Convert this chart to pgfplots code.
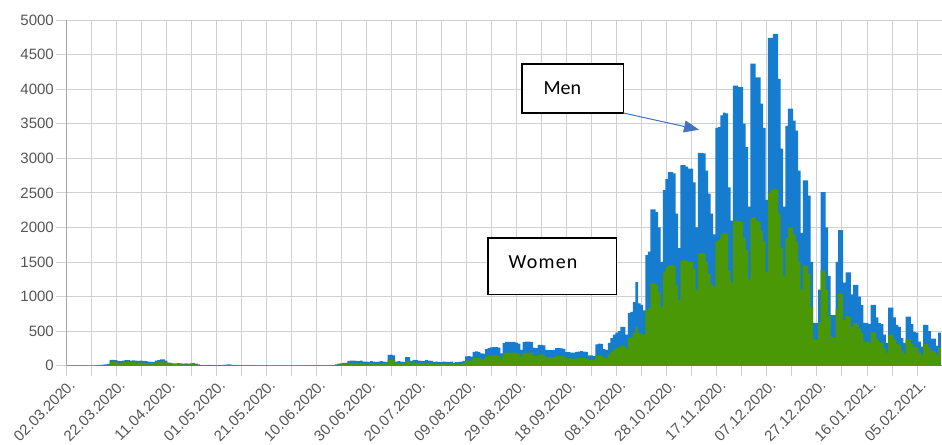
\documentclass[border=0pt]{standalone}
\usepackage{pgfplots}
\pgfplotsset{compat=1.18}
\usepackage{pgfplotstable}
\usepackage{fontspec}
\setmainfont{Liberation Sans}
\newfontfamily\annfont{Carlito}
\newfontfamily\annfontW[LetterSpace=6]{Carlito}
\usetikzlibrary{arrows.meta}
\definecolor{menblue}{RGB}{22,124,208}
\definecolor{womengreen}{RGB}{74,152,6}
\definecolor{gridgray}{RGB}{208,208,208}
\definecolor{axisgray}{RGB}{140,140,140}
\definecolor{arrowblue}{RGB}{68,114,196}
\definecolor{labelgray}{RGB}{85,85,85}
\pgfplotstableread{
d m w
12 2 1
13 5 3
14 10 6
15 15 10
16 20 13
17 25 16
18 85 55
19 85 55
20 80 52
21 70 45
22 65 42
23 75 48
24 80 52
25 80 52
26 75 48
27 78 50
28 72 46
29 70 45
30 74 48
31 70 45
32 65 42
33 60 39
34 55 36
35 55 36
36 75 48
37 80 52
38 90 58
39 90 58
40 75 48
41 45 29
42 40 26
43 35 23
44 35 23
45 38 25
46 35 23
47 30 20
48 32 21
49 30 20
50 35 23
51 38 25
52 30 20
53 20 13
54 10 7
55 8 5
56 10 7
57 12 8
58 10 7
59 8 5
60 6 4
61 8 5
62 10 7
63 12 8
64 15 10
65 18 12
66 15 10
67 10 7
68 8 5
69 6 4
70 5 3
71 4 2
72 3 2
73 3 2
74 4 2
75 3 2
76 2 1
77 3 2
78 2 1
79 2 1
80 3 2
81 2 1
82 2 1
83 3 2
84 2 1
85 2 1
86 2 1
87 3 2
88 2 1
89 2 1
90 3 2
91 2 1
92 2 1
93 2 1
94 3 2
95 2 1
96 2 1
97 3 2
98 2 1
99 3 2
100 4 2
101 3 2
102 4 2
103 5 3
104 4 2
105 6 4
106 8 5
107 10 5
108 20 10
109 30 15
110 35 20
111 40 22
112 40 22
113 70 40
114 75 42
115 75 42
116 70 40
117 65 36
118 75 42
119 60 34
120 60 34
121 55 30
122 65 36
123 60 34
124 55 30
125 60 34
126 65 36
127 60 34
128 55 30
129 155 85
130 160 88
131 150 82
132 60 34
133 65 36
134 60 34
135 55 30
136 125 70
137 125 70
138 70 40
139 85 48
140 80 45
141 75 42
142 70 40
143 65 36
144 80 45
145 75 42
146 70 40
147 55 30
148 60 34
149 55 30
150 50 28
151 60 34
152 55 30
153 50 28
154 60 34
155 45 25
156 50 28
157 55 30
158 60 34
159 70 40
160 135 75
161 140 78
162 130 72
163 200 110
164 206 115
165 200 110
166 180 100
167 175 98
168 240 135
169 255 140
170 265 150
171 270 150
172 270 150
173 260 145
174 180 100
175 330 180
176 345 190
177 345 190
178 340 185
179 345 190
180 335 185
181 320 175
182 230 130
183 340 185
184 350 190
185 350 190
186 345 190
187 260 145
188 255 140
189 300 165
190 300 165
191 295 160
192 230 125
193 230 125
194 225 125
195 230 125
196 255 140
197 255 140
198 250 135
199 245 135
200 195 105
201 195 105
202 190 105
203 190 100
204 200 105
205 205 110
206 210 110
207 205 110
208 200 105
209 150 85
210 150 85
211 140 80
212 310 140
213 320 145
214 315 140
215 240 120
216 230 115
217 330 160
218 400 200
219 450 230
220 480 250
221 500 260
222 560 290
223 560 290
224 450 250
225 760 400
226 780 410
227 920 480
228 1210 560
229 900 470
230 880 460
231 800 450
232 1600 800
233 1650 830
234 2260 1190
235 2260 1190
236 2220 1170
237 2000 1060
238 1500 850
239 2540 1350
240 2700 1430
241 2800 1450
242 2800 1460
243 2780 1440
244 2200 1170
245 1700 950
246 2900 1520
247 2900 1530
248 2880 1520
249 2850 1500
250 2850 1500
251 2650 1400
252 2000 1100
253 3080 1620
254 3080 1630
255 3070 1620
256 2820 1500
257 2490 1330
258 2200 1180
259 1900 1140
260 3440 1800
261 3450 1820
262 3620 1900
263 3660 1920
264 3650 1910
265 2580 1380
266 2100 1200
267 4050 2100
268 4050 2100
269 4030 2090
270 4030 2080
271 3500 1850
272 3160 1680
273 2300 1250
274 4370 2150
275 4370 2150
276 4170 2100
277 4170 2080
278 3790 1950
279 3440 1800
280 2400 1350
281 4740 2500
282 4740 2540
283 4800 2560
284 4800 2550
285 4150 2200
286 3140 1700
287 2300 1300
288 3470 1850
289 3720 2000
290 3720 2000
291 3545 1900
292 3400 1800
293 2820 1500
294 1920 1100
295 2680 1450
296 2680 1440
297 2460 1330
298 1500 850
299 620 380
300 620 370
301 1100 620
302 2510 1380
303 2510 1370
304 2000 1100
305 1300 720
306 730 420
307 730 410
308 1500 820
309 1960 1050
310 1960 1040
311 1200 660
312 1350 720
313 1350 710
314 1030 560
315 1170 620
316 1170 620
317 1000 540
318 880 470
319 620 340
320 620 340
321 600 330
322 880 490
323 880 480
324 700 380
325 620 340
326 600 330
327 450 250
328 330 190
329 840 450
330 840 450
331 700 380
332 590 320
333 560 300
334 400 220
335 330 180
336 710 380
337 710 380
338 600 320
339 490 270
340 480 260
341 350 190
342 275 150
343 590 320
344 590 320
345 500 270
346 390 210
347 390 210
348 290 160
349 480 260
}\data
\begin{document}
\begin{tikzpicture}
\begin{axis}[
  scale only axis,
  width=876pt, height=345.7pt,
  xmin=0, xmax=350, ymin=0, ymax=5000,
  enlargelimits=false,
  axis x line*=bottom, axis y line*=left,
  x axis line style={draw=axisgray, line width=0.8pt},
  y axis line style={draw=gridgray!80!black, line width=0.6pt},
  xtick={0,20,...,340},
  xticklabels={02.03.2020.,22.03.2020.,11.04.2020.,01.05.2020.,21.05.2020.,10.06.2020.,30.06.2020.,20.07.2020.,09.08.2020.,29.08.2020.,18.09.2020.,08.10.2020.,28.10.2020.,17.11.2020.,07.12.2020.,27.12.2020.,16.01.2021.,05.02.2021.},
  minor xtick={10,30,...,350},
  ytick={0,500,...,5000},
  tick align=outside,
  major tick length=10pt, minor tick length=10pt,
  tick style={draw=gridgray, line width=0.8pt},
  grid=both,
  major grid style={draw=gridgray, line width=0.8pt},
  minor grid style={draw=gridgray, line width=0.8pt},
  /pgf/number format/assume math mode=true,
  /pgf/number format/1000 sep={},
  yticklabel style={font=\fontsize{15}{18}\selectfont, text=labelgray, inner sep=2pt},
  xticklabel style={font=\fontsize{15}{18}\selectfont, text=labelgray, xshift=7pt, yshift=-2pt, rotate=45, anchor=east, inner sep=1pt},
  xticklabel shift=4pt,
  clip=false,
]
\addplot[ybar, bar width=1.08, bar shift=0pt, fill=menblue, draw=none] table[x=d, y=m] {\data};
\addplot[ybar, bar width=1.08, bar shift=0pt, fill=womengreen, draw=none] table[x=d, y=w] {\data};
\draw[line width=1.6pt, fill=white] (axis cs:182.3,4364) rectangle (axis cs:222.7,3655);
\node[font=\annfont\fontsize{20}{24}\selectfont, inner sep=0pt] at (axis cs:198.3,4016) {Men};
\draw[-{Triangle[length=15pt,width=12pt]}, draw=arrowblue, fill=arrowblue, line width=1pt] (axis cs:222.7,3655) -- (axis cs:252.9,3413);
\draw[line width=1.6pt, fill=white] (axis cs:168.5,1847) rectangle (axis cs:219.9,1027);
\node[font=\annfontW\fontsize{20}{24}\selectfont, inner sep=0pt] at (axis cs:190.6,1500) {Women};
\end{axis}
\pgfresetboundingbox
\path (-66pt,-79pt) rectangle (876pt,365.7pt);
\end{tikzpicture}
\end{document}
